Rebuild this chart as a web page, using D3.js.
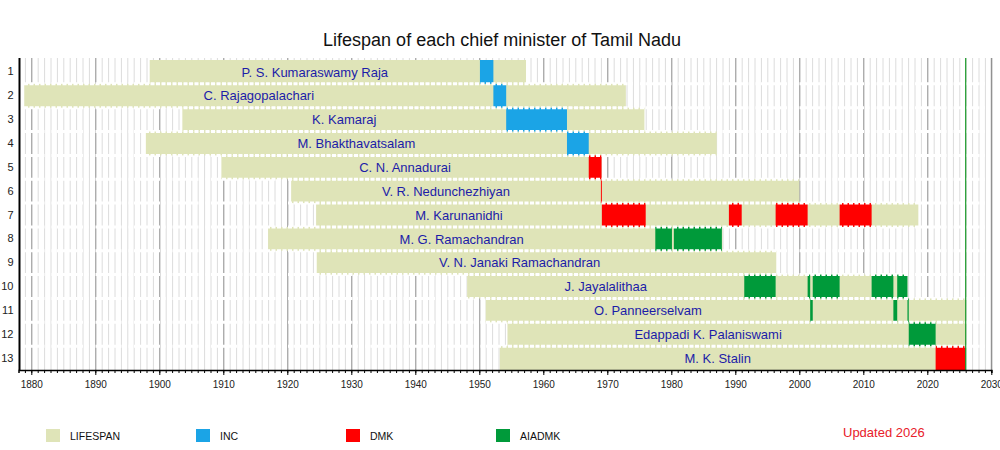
<!DOCTYPE html>
<html>
<head>
<meta charset="utf-8">
<script src="https://cdn.jsdelivr.net/npm/d3@7"></script>
<style>
  body { margin: 0; background: #fff; }
  text { font-family: "Liberation Sans", Arial, sans-serif; }
</style>
</head>
<body>
<script>
// Lifespan of each chief minister of Tamil Nadu

const W = 1000, H = 450;

// data
const ministers = [
  "P. S. Kumaraswamy Raja", "C. Rajagopalachari", "K. Kamaraj", "M. Bhakthavatsalam",
  "C. N. Annadurai", "V. R. Nedunchezhiyan", "M. Karunanidhi", "M. G. Ramachandran",
  "V. N. Janaki Ramachandran", "J. Jayalalithaa", "O. Panneerselvam",
  "Edappadi K. Palaniswami", "M. K. Stalin"
];
const born = [1898.5, 1878.9, 1903.6, 1897.9, 1909.7, 1920.6, 1924.5, 1917.0, 1924.6, 1948.1, 1951.0, 1954.4, 1953.2];
const died = [1957.3, 1972.9, 1975.8, 1987.1, 1969.1, 2000.0, 2018.6, 1988.0, 1996.4, 2016.9, 2026.0, 2026.0, 2026.0];

// terms: [row index, party, start, end]
const terms = [
  [0, "INC", 1950.1, 1952.2],
  [1, "INC", 1952.2, 1954.2],
  [2, "INC", 1954.2, 1963.7],
  [3, "INC", 1963.7, 1967.1],
  [4, "DMK", 1967.1, 1969.1],
  [5, "DMK", 1969.0, 1969.15],
  [6, "DMK", 1969.15, 1976.0],
  [6, "DMK", 1989.0, 1991.0],
  [6, "DMK", 1996.3, 2001.3],
  [6, "DMK", 2006.3, 2011.3],
  [7, "AIADMK", 1977.5, 1980.1],
  [7, "AIADMK", 1980.4, 1987.9],
  [8, "AIADMK", 1988.0, 1988.06],
  [9, "AIADMK", 1991.4, 1996.3],
  [9, "AIADMK", 2001.3, 2001.7],
  [9, "AIADMK", 2002.1, 2006.3],
  [9, "AIADMK", 2011.3, 2014.7],
  [9, "AIADMK", 2015.3, 2016.9],
  [10, "AIADMK", 2001.7, 2002.1],
  [10, "AIADMK", 2014.7, 2015.3],
  [10, "AIADMK", 2016.9, 2017.1],
  [11, "AIADMK", 2017.1, 2021.3],
  [12, "DMK", 2021.3, 2026.0]
];

const legendKeys = ["LIFESPAN", "INC", "DMK", "AIADMK"];
const legendColors = ["#dfe4b8", "#1ba4e6", "#ff0000", "#009a3a"];
const updatedYear = 2026;
const yearRange = [1878, 2030];
const decadeTicks = d3.range(1880, 2031, 10);

const color = d3.scaleOrdinal().domain(legendKeys).range(legendColors);

const svg = d3.select("body").append("svg")
  .attr("width", W)
  .attr("height", H);

const x = d3.scaleLinear().domain(yearRange).range([18.5, 991.3]);
const y = d3.scaleBand().domain(d3.range(1, ministers.length + 1)).range([60, 370]);

const plotTop = 58, plotBottom = 370;

// 标题
svg.append("text")
  .attr("x", 502)
  .attr("y", 46)
  .attr("text-anchor", "middle")
  .style("font-size", "18px")
  .style("fill", "#111")
  .text("Lifespan of each chief minister of Tamil Nadu");

// 网格线 (每年)
svg.append("g").selectAll("line")
  .data(d3.range(yearRange[0] + 1, yearRange[1] + 1))
  .join("line")
  .attr("x1", d => x(d) + 0.5)
  .attr("x2", d => x(d) + 0.5)
  .attr("y1", plotTop)
  .attr("y2", plotBottom)
  .attr("stroke", d => d % 10 === 0 ? "#8a8a8a" : "#dcdcdc")
  .attr("stroke-width", 1);

// lifespans
const rows = ministers.map((name, i) => ({ name, i, born: born[i], died: died[i] }));

svg.append("g").selectAll("rect")
  .data(rows)
  .join("rect")
  .attr("x", d => x(d.born))
  .attr("width", d => x(d.died) - x(d.born))
  .attr("y", d => y(d.i + 1))
  .attr("height", y.bandwidth())
  .attr("fill", color("LIFESPAN"));

// terms (一个月以内的任期太短，不画)
svg.append("g").selectAll("rect")
  .data(terms.filter(t => t[3] - t[2] >= 0.1))
  .join("rect")
  .attr("x", d => x(d[2]))
  .attr("width", d => x(d[3]) - x(d[2]))
  .attr("y", d => y(d[0] + 1))
  .attr("height", y.bandwidth())
  .attr("fill", d => color(d[1]));

// 行之间的白色虚线
svg.append("g").selectAll("line")
  .data(d3.range(1, ministers.length))
  .join("line")
  .attr("x1", x(yearRange[0]))
  .attr("x2", x(yearRange[1]))
  .attr("y1", d => y(d + 1))
  .attr("y2", d => y(d + 1))
  .attr("stroke", "#fff")
  .attr("stroke-width", 3)
  .attr("stroke-dasharray", "4,1.5");

// 名字：放在出生到第一次任期之间
svg.append("g").selectAll("text")
  .data(rows)
  .join("text")
  .attr("x", d => {
    const first = d3.min(terms.filter(t => t[0] === d.i), t => t[2]);
    return (x(d.born) + x(first)) / 2;
  })
  .attr("y", d => y(d.i + 1) + y.bandwidth() / 2)
  .attr("dy", "0.36em")
  .attr("text-anchor", "middle")
  .style("font-size", "13px")
  .style("fill", "#1c1ca8")
  .text(d => d.name);

// 当前年份线
svg.append("line")
  .attr("x1", x(updatedYear))
  .attr("x2", x(updatedYear))
  .attr("y1", plotTop)
  .attr("y2", plotBottom)
  .attr("stroke", "#1a9a2a")
  .attr("stroke-width", 1.2);

// 右边框
svg.append("line")
  .attr("x1", x(yearRange[1]))
  .attr("x2", x(yearRange[1]))
  .attr("y1", plotTop)
  .attr("y2", plotBottom)
  .attr("stroke", "#8a8a8a");

// X轴 (小刻度)
svg.append("g")
  .attr("transform", `translate(0,${plotBottom})`)
  .call(d3.axisBottom(x).tickValues(d3.range(yearRange[0] + 1, yearRange[1] + 1)).tickSize(3).tickFormat(""))
  .call(g => g.select(".domain").attr("stroke", "#000").attr("stroke-width", 1.5));

// X轴 (十年刻度)
svg.append("g")
  .attr("transform", `translate(0,${plotBottom})`)
  .call(d3.axisBottom(x).tickValues(decadeTicks).tickSize(5).tickPadding(6).tickFormat(d3.format("d")))
  .call(g => g.select(".domain").remove())
  .call(g => g.selectAll("text").style("font-size", "10px").style("fill", "#222")
    .style("font-family", "'Liberation Sans', Arial, sans-serif"));

// Y轴
svg.append("g")
  .attr("transform", `translate(19.5,0)`)
  .call(d3.axisLeft(y).tickSize(0).tickPadding(6))
  .call(g => g.select(".domain").attr("d", `M0,${plotTop}V${plotBottom}`).attr("stroke", "#000").attr("stroke-width", 2))
  .call(g => g.selectAll("text").style("font-size", "11px").style("fill", "#222")
    .style("font-family", "'Liberation Sans', Arial, sans-serif"));

// 图例
const legendX = d3.scalePoint().domain(legendKeys).range([46, 496]);
const legend = svg.append("g").selectAll("g")
  .data(legendKeys)
  .join("g")
  .attr("transform", d => `translate(${legendX(d)},429)`);

legend.append("rect")
  .attr("width", 14)
  .attr("height", 13)
  .attr("fill", d => color(d));

legend.append("text")
  .attr("x", 24)
  .attr("y", 7)
  .attr("dy", "0.36em")
  .style("font-size", "10.5px")
  .style("fill", "#111")
  .text(d => d);

svg.append("text")
  .attr("x", 843)
  .attr("y", 437)
  .style("font-size", "13px")
  .style("fill", "#e8202a")
  .text(`Updated ${updatedYear}`);
</script>
</body>
</html>
